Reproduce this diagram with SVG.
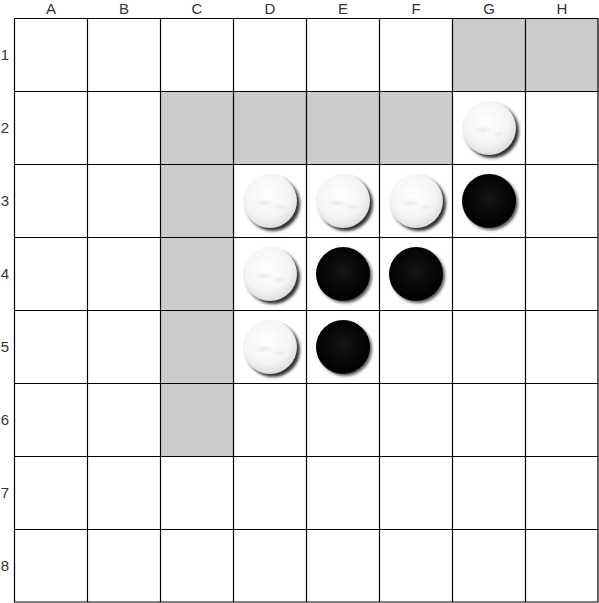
<svg xmlns="http://www.w3.org/2000/svg" width="599" height="603" viewBox="0 0 599 603">
<style>
.lbl{font-family:"Liberation Sans",Arial,sans-serif;font-size:15px;fill:#333;text-anchor:middle}
.gray{fill:#cbcbcb}
.grid{stroke:#000;stroke-width:1.2;fill:none}
</style>
<defs>
<radialGradient id="wg" cx="0.45" cy="0.4" r="0.6">
<stop offset="0" stop-color="#ffffff"/>
<stop offset="0.7" stop-color="#f4f4f4"/>
<stop offset="1" stop-color="#dedede"/>
</radialGradient>
<radialGradient id="wband" cx="0.5" cy="0.5" r="0.5">
<stop offset="0" stop-color="#e2e2e2" stop-opacity="0.8"/>
<stop offset="1" stop-color="#ffffff" stop-opacity="0"/>
</radialGradient>
<radialGradient id="bg" cx="0.5" cy="0.45" r="0.6">
<stop offset="0" stop-color="#151515"/>
<stop offset="0.85" stop-color="#000"/>
<stop offset="1" stop-color="#222"/>
</radialGradient>
<filter id="sh" x="-30%" y="-30%" width="160%" height="160%">
<feGaussianBlur stdDeviation="1.5"/>
</filter>
<g id="white">
<circle cx="3" cy="3" r="27" fill="#333" filter="url(#sh)"/>
<circle r="27" fill="url(#wg)"/>
<ellipse cx="-6" cy="2" rx="16" ry="6" fill="url(#wband)"/>
<ellipse cx="10" cy="6" rx="12" ry="5" fill="url(#wband)"/>
</g>
<g id="black">
<circle cx="2" cy="2" r="27" fill="#555" filter="url(#sh)"/>
<circle r="27" fill="url(#bg)"/>
</g>
</defs>
<g id="labels">
<text class="lbl" x="51" y="14">A</text>
<text class="lbl" x="124" y="14">B</text>
<text class="lbl" x="197" y="14">C</text>
<text class="lbl" x="270" y="14">D</text>
<text class="lbl" x="343" y="14">E</text>
<text class="lbl" x="416" y="14">F</text>
<text class="lbl" x="489" y="14">G</text>
<text class="lbl" x="562" y="14">H</text>
<text class="lbl" x="5" y="60">1</text>
<text class="lbl" x="5" y="133">2</text>
<text class="lbl" x="5" y="206">3</text>
<text class="lbl" x="5" y="279">4</text>
<text class="lbl" x="5" y="352">5</text>
<text class="lbl" x="5" y="425">6</text>
<text class="lbl" x="5" y="498">7</text>
<text class="lbl" x="5" y="571">8</text>
</g>
<g id="board">
<rect x="14.5" y="18.5" width="584" height="584" fill="#fff"/>
<rect class="gray" x="452.5" y="18.5" width="146" height="73"/>
<rect class="gray" x="160.5" y="91.5" width="292" height="73"/>
<rect class="gray" x="160.5" y="164.5" width="73" height="292"/>
<path class="grid" d="M14.5 18.5V602.5M87.5 18.5V602.5M160.5 18.5V602.5M233.5 18.5V602.5M306.5 18.5V602.5M379.5 18.5V602.5M452.5 18.5V602.5M525.5 18.5V602.5M598 18.5V602.5M14.5 18.5H598.5M14.5 91.5H598.5M14.5 164.5H598.5M14.5 237.5H598.5M14.5 310.5H598.5M14.5 383.5H598.5M14.5 456.5H598.5M14.5 529.5H598.5M14.5 602H598.5"/>
</g>
<g id="pieces">
<use href="#white" x="489" y="128"/>
<use href="#white" x="270" y="201"/>
<use href="#white" x="343" y="201"/>
<use href="#white" x="416" y="201"/>
<use href="#black" x="489" y="201"/>
<use href="#white" x="270" y="274"/>
<use href="#black" x="343" y="274"/>
<use href="#black" x="416" y="274"/>
<use href="#white" x="270" y="347"/>
<use href="#black" x="343" y="347"/>
</g>
</svg>
